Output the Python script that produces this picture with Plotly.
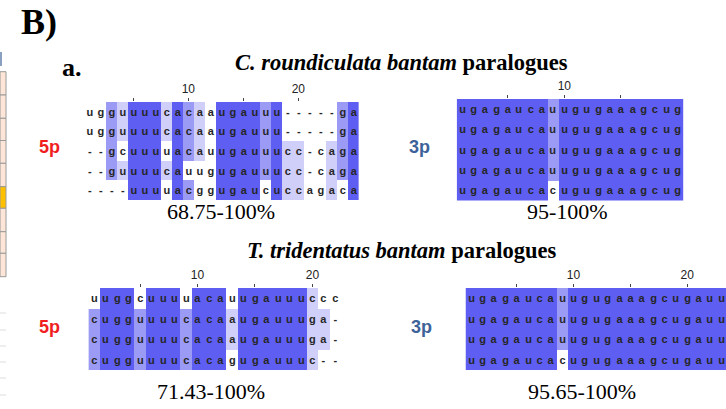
import plotly.graph_objects as go

W, H = 726, 409

# ---- data: aligned sequences ----
cr_5p = ["ugguuuucacaaugauuu-----ga",
         "ugguuuucacaaugauuu-----ga",
         "--gcuuuuacauugauuucc-caga",
         "--guuuucauugugauuucc-caga",
         "----uuuuacggugaucuccagaca"]
cr_3p = ["ugagaucauugugaaagcug",
         "ugagaucauugugaaagcug",
         "ugagaucauugugaaagcug",
         "ugagaucauugugaaagcug",
         "ugagaucacugugaaagcug"]
tt_5p = ["uuggcuuuuacauugauuuccc",
         "cugguuuucacaaugauuuga-",
         "cugguuuucacaaugauuuga-",
         "cugguuuucacagugauuuc--"]
tt_3p = ["ugagaucauugugaaagcugauu",
         "ugagaucauugugaaagcugauu",
         "ugagaucauugugaaagcugauu",
         "ugagaucacugugaaagcugauu"]

titles = ["C. roundiculata bantam", "T. tridentatus bantam"]
ranges = ["68.75-100%", "95-100%", "71.43-100%", "95.65-100%"]

COLORS = ["#ffffff", "#cfcff9", "#9b9bf6", "#5e5ef2"]


def pid_levels(seqs):
    n = len(seqs)
    L = len(seqs[0])
    z = [[0] * L for _ in seqs]
    for c in range(L):
        counts = {}
        for s in seqs:
            ch = s[c]
            if ch != "-":
                counts[ch] = counts.get(ch, 0) + 1
        if not counts:
            continue
        mx = max(counts.values())
        modal = {k for k, v in counts.items() if v == mx}
        pct = 100.0 * mx / n
        lvl = 3 if pct > 80 else 2 if pct > 60 else 1 if pct > 40 else 0
        for r, s in enumerate(seqs):
            if s[c] in modal:
                z[r][c] = lvl
    return z


# block layout in pixels: (left, right, top, bottom, x-range max or None)
blocks = [
    (cr_5p, 83.8, 358.8, 102.0, 200.0, None),
    (cr_3p, 456.7, 683.3, 99.0, 200.5, None),
    (tt_5p, 88.4, 341.1, 288.0, 370.0, None),
    (tt_3p, 465.5, 726.0, 288.0, 370.0, 23.41),
]

fig = go.Figure()
colorscale = [[0, COLORS[0]], [1 / 3, COLORS[1]], [2 / 3, COLORS[2]], [1, COLORS[3]]]

for i, (seqs, l, r, t, b, xmax) in enumerate(blocks, start=1):
    L = len(seqs[0])
    z = pid_levels(seqs)
    text = [list(s) for s in seqs]
    xa = "x" if i == 1 else f"x{i}"
    ya = "y" if i == 1 else f"y{i}"
    fig.add_trace(go.Heatmap(
        z=z, x=list(range(1, L + 1)), y=list(range(len(seqs))),
        text=text, texttemplate="%{text}",
        textfont=dict(family="Liberation Sans", size=11, color="#262626",
                      weight="bold"),
        colorscale=colorscale, zmin=0, zmax=3, showscale=False,
        xgap=0, ygap=0, hoverinfo="skip", xaxis=xa, yaxis=ya))
    ticks = [k for k in range(5, L, 5)]
    ticktext = [str(k) if k % 10 == 0 else "" for k in ticks]
    xkey = "xaxis" if i == 1 else f"xaxis{i}"
    ykey = "yaxis" if i == 1 else f"yaxis{i}"
    fig.update_layout(**{
        xkey: dict(domain=[l / W, r / W], anchor=ya, side="top",
                   range=[0.5, xmax if xmax else L + 0.5],
                   tickvals=ticks, ticktext=ticktext, ticks="outside",
                   ticklen=3, tickwidth=1, tickcolor="#444",
                   tickfont=dict(family="Liberation Sans", size=12, color="#222"),
                   showgrid=False, zeroline=False, showline=False, fixedrange=True),
        ykey: dict(domain=[1 - b / H, 1 - t / H], anchor=xa,
                   range=[len(seqs) - 0.5, -0.5], showticklabels=False,
                   ticks="", showgrid=False, zeroline=False, showline=False,
                   fixedrange=True),
    })

ann = []


def add(txt, x, y, size, family="Liberation Serif", color="#000"):
    ann.append(dict(text=txt, x=x / W, y=1 - y / H, xref="paper", yref="paper",
                    showarrow=False, xanchor="center", yanchor="middle",
                    font=dict(family=family, size=size, color=color)))


add("<b>B)</b>", 39, 22, 36)
add("<b>a.</b>", 72, 67, 26)
add(f"<b><i>{titles[0]}</i> paralogues</b>", 401, 62, 22.5)
add(f"<b><i>{titles[1]}</i> paralogues</b>", 401, 250, 22.5)
add(ranges[0], 221, 212, 22)
add(ranges[1], 567, 212, 22)
add(ranges[2], 211, 391, 22)
add(ranges[3], 582, 391, 22)
add("<b>5p</b>", 49, 147, 18, "Liberation Sans", "#f01e1e")
add("<b>3p</b>", 419, 147, 18, "Liberation Sans", "#3d6299")
add("<b>5p</b>", 49, 327, 18, "Liberation Sans", "#f01e1e")
add("<b>3p</b>", 421, 327, 18, "Liberation Sans", "#3d6299")

# decorative fragment of neighbouring panel at the left edge
shapes = []
edges = [71.7, 95, 118.3, 140.5, 163.3, 186.7, 208.3, 231.7, 253.3, 276.7]
for k in range(len(edges) - 1):
    fill = "#ffc000" if k == 5 else "#fde6d8"
    shapes.append(dict(type="rect", xref="paper", yref="paper",
                       x0=0, x1=6 / W, y0=1 - edges[k + 1] / H, y1=1 - edges[k] / H,
                       fillcolor=fill, line=dict(color="#9a9a9a", width=1)))
for yy in [313, 330, 346, 362, 378, 395]:
    shapes.append(dict(type="line", xref="paper", yref="paper",
                       x0=0, x1=6 / W, y0=1 - yy / H, y1=1 - yy / H,
                       line=dict(color="#dddddd", width=1)))
shapes.append(dict(type="rect", xref="paper", yref="paper", x0=0, x1=2 / W,
                   y0=1 - 66 / H, y1=1 - 52 / H, fillcolor="#8aa0c0",
                   line=dict(width=0)))

fig.update_layout(width=W, height=H, margin=dict(l=0, r=0, t=0, b=0),
                  paper_bgcolor="white", plot_bgcolor="white",
                  annotations=ann, shapes=shapes, showlegend=False)

fig.write_html("out.html", config={"displayModeBar": False},
               post_script="document.body.style.margin='0';"
                           "document.body.style.overflow='hidden';")
